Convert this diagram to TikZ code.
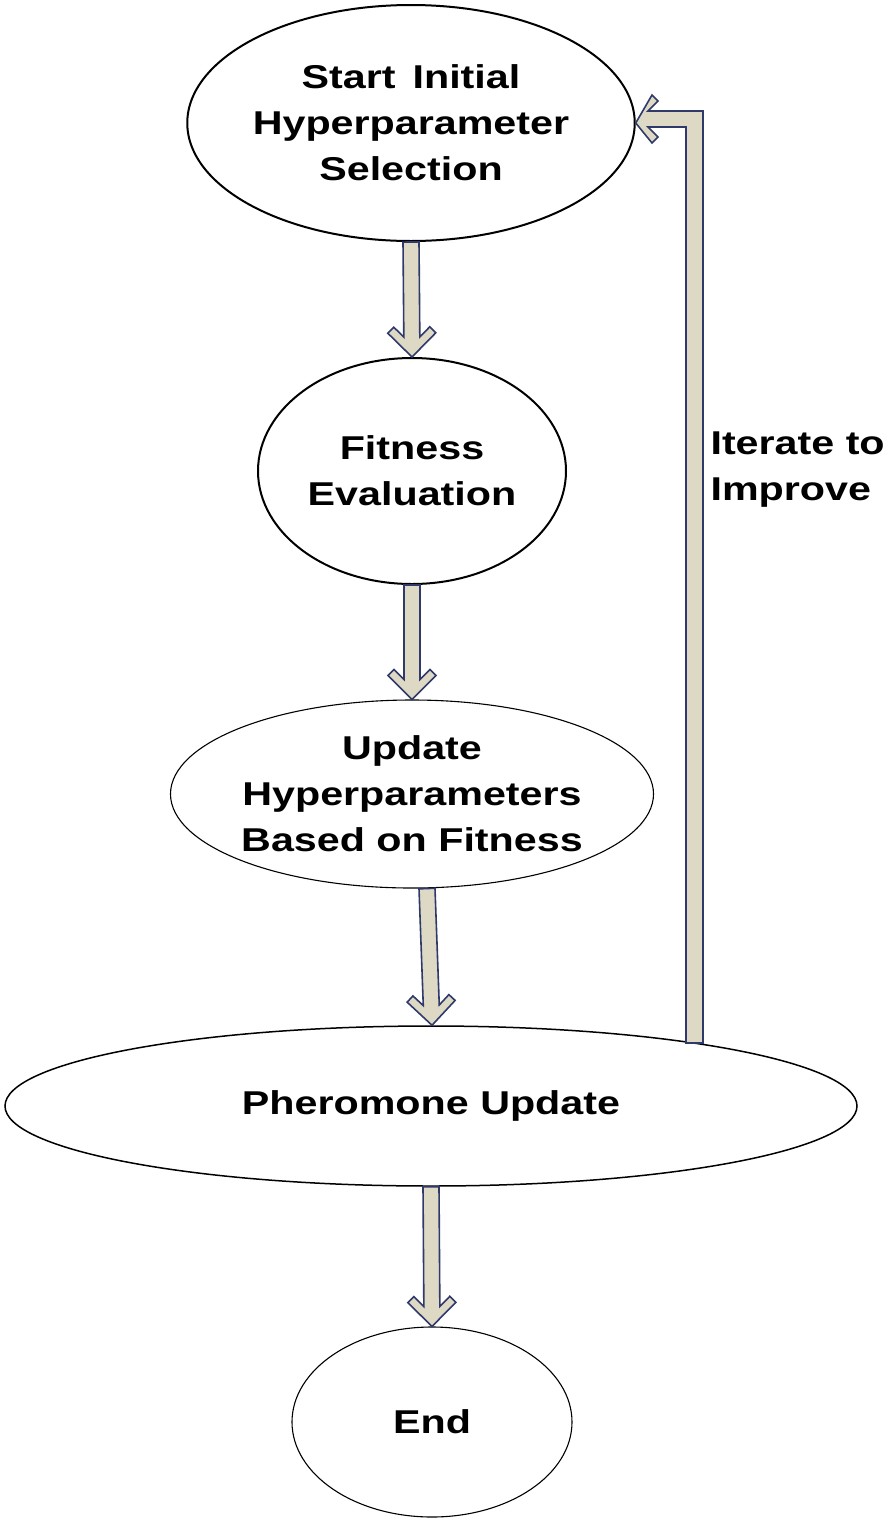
\documentclass[tikz,border=0pt]{standalone}
\usepackage{fontspec}
\setmainfont{Liberation Sans}[FakeStretch=1.25]
\usetikzlibrary{shapes.geometric,calc}
\definecolor{beige}{HTML}{DDD9C4}
\definecolor{navy}{HTML}{2F3A6B}
\tikzset{
  oval/.style={ellipse, draw=black, line width=2pt, inner sep=0pt, align=center,
     font=\fontsize{33}{46}\selectfont\bfseries},
  thin oval/.style={oval, line width=1.1pt},
  bigarr/.style={fill=beige, draw=navy, line width=1.6pt, line join=miter},
}
\newcommand{\bigarrow}[2]{%
  \draw[bigarr] (#2)
   -- ($(#2)!24pt!(#1)!24pt!90:(#1)$)
   -- ($(#2)!30pt!(#1)!18pt!90:(#1)$)
   -- ($(#2)!20pt!(#1)!8pt!90:(#1)$)
   -- ($(#1)!8pt!-90:(#2)$)
   -- ($(#1)!8pt!90:(#2)$)
   -- ($(#2)!20pt!(#1)!8pt!-90:(#1)$)
   -- ($(#2)!30pt!(#1)!18pt!-90:(#1)$)
   -- ($(#2)!24pt!(#1)!24pt!-90:(#1)$)
   -- cycle;}
\begin{document}
\begin{tikzpicture}[x=1pt,y=-1pt]
\useasboundingbox (0,0) rectangle (893,1524);
\node[oval, minimum width=434pt, minimum height=236pt] (e1) at (411,123) {Start\, Initial\\Hyperparameter\\Selection};
\node[oval, minimum width=308pt, minimum height=226pt] (e2) at (412,471) {Fitness\\Evaluation};
\node[thin oval, minimum width=474pt, minimum height=188pt] (e3) at (412,794) {Update\\Hyperparameters\\Based on Fitness};
\node[oval, line width=1.5pt, minimum width=852pt, minimum height=160pt] (e4) at (431,1106) {Pheromone Update};
\node[thin oval, minimum width=280pt, minimum height=190pt] (e5) at (432,1422) {End};
\coordinate (a3s) at ($(e3.south)+(15,0)$);
\coordinate (a3e) at ($(e4.north)+(1,0)$);
\bigarrow{e1.south}{e2.north}
\bigarrow{e2.south}{e3.north}
\bigarrow{a3s}{a3e}
\bigarrow{e4.south}{e5.north}
\coordinate (lp) at (694,1043);
\draw[bigarr] (e1.east) -- (652,95) -- (658,101) -- (648,111) -- (703,111) -- ($(lp)+(9,0)$)
  -- ($(lp)+(-8,0)$) -- (686,127) -- (648,127) -- (658,137) -- (652,143) -- cycle;
\node[anchor=west, align=left, font=\fontsize{33}{46}\selectfont\bfseries] (lbl) at (707,470) {Iterate to\\Improve};
\end{tikzpicture}
\end{document}
